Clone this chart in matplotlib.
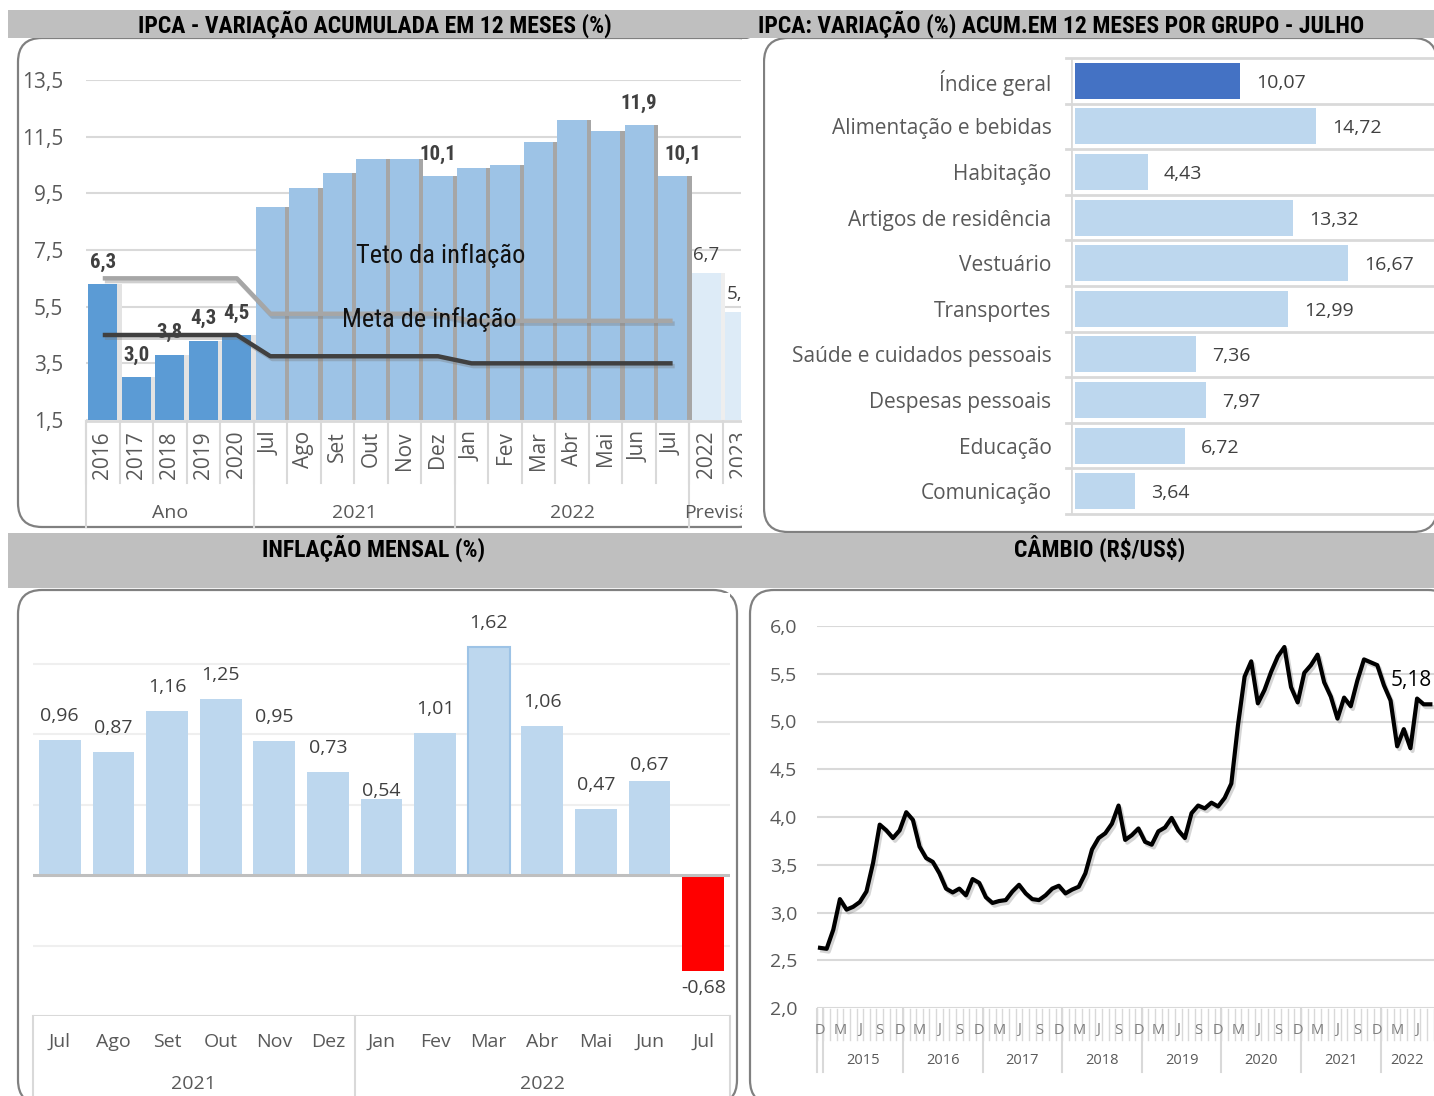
import numpy as np
import matplotlib
matplotlib.use("Agg")
import matplotlib.pyplot as plt
import matplotlib.patheffects as pe
from matplotlib.patches import FancyBboxPatch, Rectangle
from matplotlib.transforms import blended_transform_factory

# ---- IPCA acumulado 12 meses
ipca_cats = ['2016', '2017', '2018', '2019', '2020',
             'Jul', 'Ago', 'Set', 'Out', 'Nov', 'Dez',
             'Jan', 'Fev', 'Mar', 'Abr', 'Mai', 'Jun', 'Jul',
             '2022', '2023']
ipca_vals = [6.3, 3.0, 3.8, 4.3, 4.5,
             9.0, 9.7, 10.2, 10.7, 10.7, 10.1,
             10.4, 10.5, 11.3, 12.1, 11.7, 11.9, 10.1,
             6.7, 5.3]
ipca_groups = ['Ano', '2021', '2022', 'Previsão']
ipca_group_sizes = [5, 6, 7, 2]
ipca_labelled = [0, 1, 2, 3, 4, 10, 16, 17, 18, 19]
teto = [6.5, 6.5, 6.5, 6.5, 6.5,
        5.25, 5.25, 5.25, 5.25, 5.25, 5.25,
        5.0, 5.0, 5.0, 5.0, 5.0, 5.0, 5.0]
meta = [4.5, 4.5, 4.5, 4.5, 4.5,
        3.75, 3.75, 3.75, 3.75, 3.75, 3.75,
        3.5, 3.5, 3.5, 3.5, 3.5, 3.5, 3.5]

# ---- IPCA por grupo - julho
grupos = ['Índice geral', 'Alimentação e bebidas', 'Habitação', 'Artigos de residência',
          'Vestuário', 'Transportes', 'Saúde e cuidados pessoais', 'Despesas pessoais',
          'Educação', 'Comunicação']
grupo_vals = [10.07, 14.72, 4.43, 13.32, 16.67, 12.99, 7.36, 7.97, 6.72, 3.64]

# ---- inflação mensal
mes_cats = ['Jul', 'Ago', 'Set', 'Out', 'Nov', 'Dez', 'Jan', 'Fev', 'Mar', 'Abr', 'Mai', 'Jun', 'Jul']
mes_vals = [0.96, 0.87, 1.16, 1.25, 0.95, 0.73, 0.54, 1.01, 1.62, 1.06, 0.47, 0.67, -0.68]
mes_groups = ['2021', '2022']
mes_group_sizes = [6, 7]

# ---- câmbio mensal, dez/2014 a ago/2022
cambio_inicio = (2014, 12)
cambio = [2.63, 2.62, 2.82, 3.14, 3.03, 3.06, 3.11, 3.22, 3.52, 3.92,
          3.86, 3.78, 3.86, 4.05, 3.97, 3.69, 3.57, 3.53, 3.41, 3.25,
          3.21, 3.25, 3.18, 3.35, 3.31, 3.16, 3.10, 3.12, 3.13, 3.22,
          3.29, 3.20, 3.14, 3.13, 3.18, 3.25, 3.28, 3.20, 3.24, 3.27,
          3.41, 3.66, 3.78, 3.83, 3.93, 4.12, 3.76, 3.81, 3.88, 3.74,
          3.71, 3.85, 3.89, 3.99, 3.86, 3.78, 4.04, 4.12, 4.09, 4.15,
          4.11, 4.20, 4.35, 4.96, 5.47, 5.63, 5.19, 5.33, 5.52, 5.68,
          5.78, 5.36, 5.20, 5.51, 5.59, 5.70, 5.41, 5.26, 5.03, 5.25,
          5.16, 5.43, 5.65, 5.62, 5.59, 5.38, 5.22, 4.74, 4.92, 4.72,
          5.24, 5.18, 5.18]
meses_pt = ['Jan', 'Fev', 'Mar', 'Abr', 'Mai', 'Jun', 'Jul', 'Ago', 'Set', 'Out', 'Nov', 'Dez']

SANS = ['Open Sans', 'DejaVu Sans']
NARROW = ['Liberation Sans Narrow', 'Roboto Condensed', 'DejaVu Sans']
GRAY_TXT = '#595959'
LBL_TXT = '#404040'
LINE_GRAY = '#D9D9D9'


def br(v, d):
    return f'{v:.{d}f}'.replace('.', ',')


W, H = 1434, 1096
fig = plt.figure(figsize=(W / 100, H / 100), dpi=100)


def px_axes(x0, y0, x1, y1):
    return fig.add_axes([x0 / W, 1 - y1 / H, (x1 - x0) / W, (y1 - y0) / H])


def clean(ax):
    for s in ax.spines.values():
        s.set_visible(False)
    ax.tick_params(length=0)


# background layer in pixel units (y down)
bg = fig.add_axes([0, 0, 1, 1])
bg.set_xlim(0, W)
bg.set_ylim(H, 0)
bg.axis('off')


def panel(x0, y0, x1, y1):
    bg.add_patch(FancyBboxPatch((x0, y0), x1 - x0, y1 - y0,
                                boxstyle='round,pad=0,rounding_size=24',
                                fc='white', ec='#808080', lw=1.6))


panel(18, 38, 762, 527)
panel(764, 38, 1437, 532)
panel(18, 590, 737, 1104)
panel(750, 590, 1452, 1104)

bg.add_patch(Rectangle((8, 10), W - 8, 28, fc='#BFBFBF', ec='none'))
bg.add_patch(Rectangle((8, 533), W - 8, 55, fc='#BFBFBF', ec='none'))
title_kw = dict(ha='center', va='center', fontsize=17, fontweight='bold', family=NARROW,
                fontstretch='condensed', color='black')
bg.text(375, 24, 'IPCA - VARIAÇÃO ACUMULADA EM 12 MESES (%)', **title_kw)
bg.text(1061, 24, 'IPCA: VARIAÇÃO (%) ACUM.EM 12 MESES POR GRUPO - JULHO', **title_kw)
bg.text(374, 548, 'INFLAÇÃO MENSAL (%)', **title_kw)
bg.text(1100, 548, 'CÂMBIO (R\\$/US\\$)', **title_kw)

# ================= IPCA 12 meses =================
ax1 = px_axes(86, 80, 741, 420)
clean(ax1)
n1 = len(ipca_cats)
x1 = np.arange(n1)
grp_idx = np.repeat(np.arange(len(ipca_groups)), ipca_group_sizes)
bar_cols = ['#5B9BD5', '#9DC3E6', '#9DC3E6', '#DDEBF7']
shadow_cols = ['#E3E3E3', '#A6A6A6', '#A6A6A6', '#EEEEEE']
ax1.bar(x1 + 0.13, ipca_vals, width=0.87, color=[shadow_cols[g] for g in grp_idx], zorder=1.5)
ax1.bar(x1, ipca_vals, width=0.87, color=[bar_cols[g] for g in grp_idx], zorder=2)
ax1.set_xlim(-0.5, 19.04)
ax1.set_ylim(1.5, 13.5)
ax1.set_yticks(np.arange(1.5, 13.6, 2.0))
ax1.set_yticklabels([br(v, 1) for v in np.arange(1.5, 13.6, 2.0)], fontsize=15,
                    color=GRAY_TXT, family=SANS)
ax1.tick_params(axis='y', pad=16.5)
ax1.set_xticks([])
ax1.yaxis.grid(True, color=LINE_GRAY, lw=1.5)
ax1.set_axisbelow(True)

shadow = [pe.SimpleLineShadow(offset=(1.5, -2), shadow_color='#777777', alpha=0.35), pe.Normal()]
xl = np.arange(len(teto))
ax1.plot(xl, teto, color='#A6A6A6', lw=3.2, zorder=4, path_effects=shadow, solid_capstyle='butt')
ax1.plot(xl, meta, color='#404040', lw=3.2, zorder=4, path_effects=shadow, solid_capstyle='butt')
ax1.text(10.09, 7.32, 'Teto da inflação', ha='center', va='center', fontsize=19,
         family=NARROW, fontstretch='condensed', color='#111111', zorder=5)
ax1.text(9.73, 5.06, 'Meta de inflação', ha='center', va='center', fontsize=19,
         family=NARROW, fontstretch='condensed', color='#111111', zorder=5)

for i in ipca_labelled:
    bold = ipca_groups[grp_idx[i]] != 'Previsão'
    dx = 10 if i == 17 else 0
    if bold:
        ax1.annotate(br(ipca_vals[i], 1), (i, ipca_vals[i]), xytext=(dx, 22), textcoords='offset pixels',
                     ha='center', va='center', fontsize=15, fontweight='bold', family=NARROW,
                     fontstretch='condensed', color=LBL_TXT, zorder=3)
    else:
        ax1.annotate(br(ipca_vals[i], 1), (i, ipca_vals[i]), xytext=(dx, 18), textcoords='offset pixels',
                     ha='center', va='center', fontsize=13.5, family=SANS, color=LBL_TXT, zorder=3)

T1 = blended_transform_factory(ax1.transData, bg.transData)
ax1.plot([-0.5, n1 - 0.5], [421, 421], transform=T1, color=LINE_GRAY, lw=2, clip_on=False)
for i, c in enumerate(ipca_cats):
    ax1.text(i, 431, c, rotation=90, ha='center', va='top', transform=T1,
             fontsize=15, color=GRAY_TXT, family=SANS)
for b in np.arange(-0.5, n1):
    ax1.plot([b, b], [421, 483], transform=T1, color=LINE_GRAY, lw=1.5, clip_on=False)
edges = np.concatenate([[0], np.cumsum(ipca_group_sizes)]) - 0.5
for b in edges:
    ax1.plot([b, b], [421, 527], transform=T1, color=LINE_GRAY, lw=1.5, clip_on=False)
for g, name in enumerate(ipca_groups):
    ax1.text((edges[g] + edges[g + 1]) / 2, 513, name, ha='center', va='center', transform=T1,
             fontsize=14, color=GRAY_TXT, family=SANS)

# ================= IPCA por grupo =================
ax2 = px_axes(1071, 58, 1434, 514)
clean(ax2)
y2 = np.arange(len(grupos))
ax2.barh(y2, grupo_vals, height=0.79,
         color=['#4472C4' if i == 0 else '#BDD7EE' for i in y2], zorder=2)
ax2.set_xlim(-0.25, 21.9)
ax2.set_ylim(len(grupos) - 0.5, -0.5)
ax2.set_xticks([])
ax2.set_yticks(y2)
ax2.set_yticklabels(grupos, fontsize=15, color=GRAY_TXT, family=SANS)
ax2.tick_params(axis='y', pad=14)
for b in np.arange(-0.5, len(grupos)):
    ax2.plot([-0.55, 22], [b, b], color=LINE_GRAY, lw=2, clip_on=False, zorder=1)
ax2.plot([-0.25, -0.25], [-0.5, len(grupos) - 0.5], color=LINE_GRAY, lw=2, zorder=1)
for i, v in enumerate(grupo_vals):
    ax2.annotate(br(v, 2), (v, i), xytext=(16, -2), textcoords='offset pixels',
                 ha='left', va='center', fontsize=14, color=LBL_TXT, family=SANS)

# ================= inflação mensal =================
ax3 = px_axes(33, 593, 730, 1016)
clean(ax3)
n3 = len(mes_vals)
x3 = np.arange(n3)
top = int(np.argmax(mes_vals))
ax3.bar(x3, mes_vals, width=0.78,
        color=['#FF0000' if v < 0 else '#BDD7EE' for v in mes_vals],
        edgecolor=['#9DC3E6' if i == top else 'none' for i in x3], lw=1.5, zorder=2)
ax3.set_xlim(-0.5, n3 - 0.5)
ax3.set_ylim(-1, 2)
ax3.set_xticks([])
ax3.set_yticks([])
for g in [-0.5, 0.5, 1.0, 1.5]:
    ax3.axhline(g, color='#EFEFEF', lw=1.5, zorder=1)
ax3.axhline(0, color='#BFBFBF', lw=2.2, zorder=3)
ax3.axhline(-1, color=LINE_GRAY, lw=1.5, zorder=1)
lift = {6: 8, 11: 16}
for i, v in enumerate(mes_vals):
    dy = lift.get(i, 24) if v >= 0 else -17
    ax3.annotate(br(v, 2), (i, v), xytext=(0, dy), textcoords='offset pixels',
                 ha='center', va='center', fontsize=14, color=LBL_TXT, family=SANS, zorder=4)
T3 = blended_transform_factory(ax3.transData, bg.transData)
for i, c in enumerate(mes_cats):
    ax3.text(i, 1042, c, ha='center', va='center', transform=T3, fontsize=14,
             color=GRAY_TXT, family=SANS)
edges3 = np.concatenate([[0], np.cumsum(mes_group_sizes)]) - 0.5
for b in edges3:
    ax3.plot([b, b], [1016, 1100], transform=T3, color=LINE_GRAY, lw=1.5, clip_on=False)
for g, name in enumerate(mes_groups):
    ax3.text((edges3[g] + edges3[g + 1]) / 2, 1084, name, ha='center', va='center', transform=T3,
             fontsize=14, color=GRAY_TXT, family=SANS)

# ================= câmbio =================
ax4 = px_axes(816.7, 626, 1434, 1008)
clean(ax4)
n4 = len(cambio)
x4 = np.arange(n4)
ax4.plot(x4, cambio, color='black', lw=3.0, zorder=3,
         path_effects=[pe.SimpleLineShadow(offset=(1.5, -2), shadow_color='#777777', alpha=0.3), pe.Normal()])
ax4.set_xlim(-0.5, 92.55)
ax4.set_ylim(2, 6)
ticks4 = np.arange(2.0, 6.01, 0.5)
ax4.set_yticks(ticks4)
ax4.set_yticklabels([br(v, 1) for v in ticks4], fontsize=14, color=GRAY_TXT, family=SANS)
ax4.tick_params(axis='y', pad=14)
ax4.set_xticks([])
ax4.yaxis.grid(True, color=LINE_GRAY, lw=1.5)
ax4.set_axisbelow(True)
ax4.annotate(br(cambio[-1], 2), (n4 - 1, cambio[-1]), xytext=(-40, 24), textcoords='offset pixels',
             ha='left', va='center', fontsize=15, color='black', family=SANS, annotation_clip=False)

T4 = blended_transform_factory(ax4.transData, bg.transData)
y0, m0 = cambio_inicio
anos = []
for i in range(n4):
    m = (m0 - 1 + i) % 12
    ano = y0 + (m0 - 1 + i) // 12
    anos.append(ano)
    if i % 3 == 0:
        ax4.text(i, 1030, meses_pt[m][0], ha='center', va='center', transform=T4,
                 fontsize=10.5, color='#7F7F7F', family=SANS)
for b in np.arange(-0.5, n4):
    ax4.plot([b, b], [1009, 1040], transform=T4, color=LINE_GRAY, lw=1, clip_on=False)
anos = np.array(anos)
for ano in np.unique(anos):
    idx = np.where(anos == ano)[0]
    ax4.plot([idx[0] - 0.5] * 2, [1009, 1072], transform=T4, color=LINE_GRAY, lw=1.5, clip_on=False)
    if len(idx) > 1:
        ax4.text((idx[0] + idx[-1]) / 2, 1061, str(ano), ha='center', va='center', transform=T4,
                 fontsize=10.5, color=GRAY_TXT, family=SANS)

# white strip between the two upper panels
fig.add_artist(Rectangle((742 / W, 1 - 531 / H), 21 / W, 492 / H, transform=fig.transFigure,
                         fc='white', ec='none', zorder=5))

fig.savefig('out.png', dpi=100)
